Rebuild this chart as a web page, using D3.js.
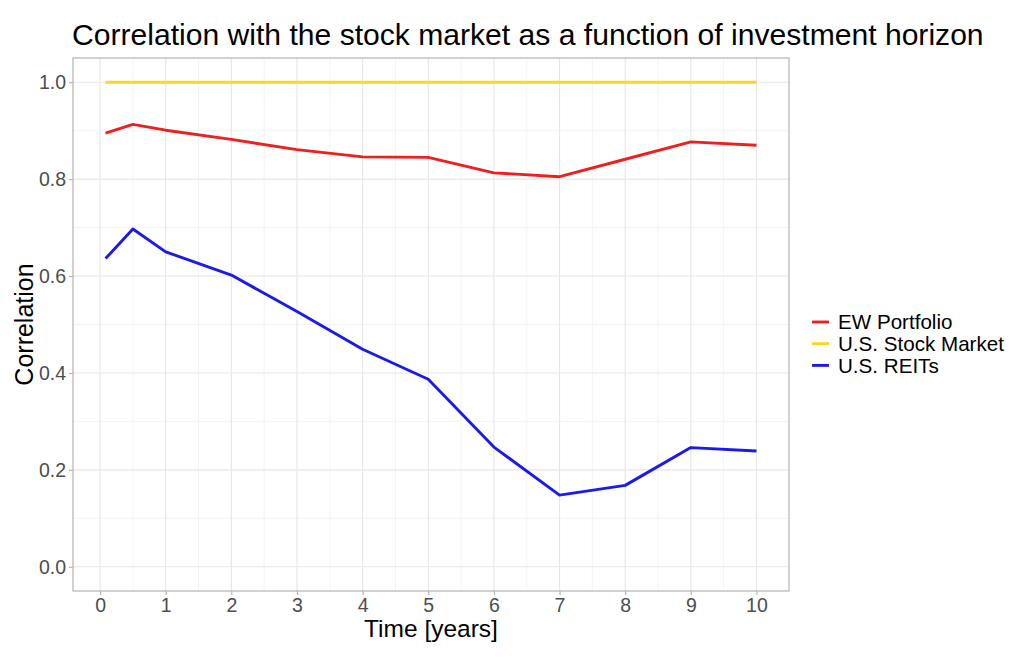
<!DOCTYPE html>
<html><head><meta charset="utf-8">
<script src="https://cdn.jsdelivr.net/npm/d3@7"></script>
<style>body{margin:0;background:#fff}svg{display:block}text{font-family:"Liberation Sans",Arial,sans-serif}</style>
</head><body><svg id="c" width="1024" height="664"></svg>
<script>
const times = [1/12, 0.5, 1, 2, 3, 4, 5, 6, 7, 8, 9, 10];
const ewPortfolio = [0.895, 0.913, 0.901, 0.882, 0.861, 0.846, 0.845, 0.813, 0.805, 0.841, 0.877, 0.870];
const stockMarket = [1, 1, 1, 1, 1, 1, 1, 1, 1, 1, 1, 1];
const reits = [0.636, 0.697, 0.650, 0.602, 0.527, 0.449, 0.387, 0.247, 0.148, 0.168, 0.246, 0.239];
const seriesNames = ["EW Portfolio", "U.S. Stock Market", "U.S. REITs"];
const seriesColors = ["#f01f1f", "#fad52a", "#1a1aee"];
const xTicks = [0,1,2,3,4,5,6,7,8,9,10];
const yTicks = [0.0,0.2,0.4,0.6,0.8,1.0];

const svg = d3.select("#c");
const L = 73, R = 789, T = 58, B = 591;
const xr = [d3.min(times), d3.max(times)], xe = (xr[1]-xr[0])*0.05;
const x = d3.scaleLinear().domain([xr[0]-xe, xr[1]+xe]).range([L, R]);
const y = d3.scaleLinear().domain([-0.05, 1.05]).range([B, T]);

// minor grid
const xMinor = d3.range(-0.5, 10.6, 1);
svg.append("g").selectAll("line").data(xMinor.filter(v=>x(v)>L&&x(v)<R)).join("line")
  .attr("x1",d=>x(d)).attr("x2",d=>x(d)).attr("y1",T).attr("y2",B)
  .attr("stroke","#ececec").attr("stroke-width",0.6);
svg.append("g").selectAll("line").data([0.1,0.3,0.5,0.7,0.9]).join("line")
  .attr("x1",L).attr("x2",R).attr("y1",d=>y(d)).attr("y2",d=>y(d))
  .attr("stroke","#ececec").attr("stroke-width",0.6);
// major grid
svg.append("g").selectAll("line").data(xTicks).join("line")
  .attr("x1",d=>x(d)).attr("x2",d=>x(d)).attr("y1",T).attr("y2",B)
  .attr("stroke","#e6e6e6").attr("stroke-width",1.1);
svg.append("g").selectAll("line").data(yTicks).join("line")
  .attr("x1",L).attr("x2",R).attr("y1",d=>y(d)).attr("y2",d=>y(d))
  .attr("stroke","#e6e6e6").attr("stroke-width",1.1);

// lines
const allSeries = [ewPortfolio, stockMarket, reits];
const line = d3.line().x((d,i)=>x(times[i])).y(d=>y(d));
allSeries.forEach((s,k)=>{
  svg.append("path").datum(s).attr("d",line).attr("fill","none")
    .attr("stroke",seriesColors[k]).attr("stroke-width",2.9).attr("stroke-linejoin","round");
});

// border
svg.append("rect").attr("x",L).attr("y",T).attr("width",R-L).attr("height",B-T)
  .attr("fill","none").attr("stroke","#b3b3b3").attr("stroke-width",1.2);

// axes
const xAxis = d3.axisBottom(x).tickValues(xTicks).tickSize(4).tickPadding(3).tickFormat(d3.format("d"));
const gx = svg.append("g").attr("transform",`translate(0,${B})`).call(xAxis);
gx.select(".domain").remove();
gx.selectAll("line").attr("stroke","#b3b3b3").attr("stroke-width",1.2);
gx.selectAll("text").attr("fill","#4d4d4d").style("font-size","19.5px").attr("y",null).attr("dy",null)
  .attr("transform","translate(0,21)");
const yAxis = d3.axisLeft(y).tickValues(yTicks).tickSize(4).tickPadding(3).tickFormat(d3.format(".1f"));
const gy = svg.append("g").attr("transform",`translate(${L},0)`).call(yAxis);
gy.select(".domain").remove();
gy.selectAll("line").attr("stroke","#b3b3b3").attr("stroke-width",1.2);
gy.selectAll("text").attr("fill","#4d4d4d").style("font-size","19.5px").attr("x",-7);

// titles
svg.append("text").attr("x",L-1).attr("y",45).attr("fill","#000")
  .style("font-size","30.1px").text("Correlation with the stock market as a function of investment horizon");
svg.append("text").attr("x",(L+R)/2).attr("y",637).attr("text-anchor","middle")
  .style("font-size","24.5px").text("Time [years]");
svg.append("text").attr("transform",`translate(33,${(T+B)/2}) rotate(-90)`).attr("text-anchor","middle")
  .style("font-size","25px").text("Correlation");

// legend
const lg = svg.append("g");
seriesNames.forEach((n,k)=>{
  const yy = 322 + k*21.7;
  lg.append("line").attr("x1",812).attr("x2",829).attr("y1",yy).attr("y2",yy)
    .attr("stroke",seriesColors[k]).attr("stroke-width",2.9);
  lg.append("text").attr("x",838).attr("y",yy).attr("dy","0.35em").style("font-size","20.6px").text(n);
});
</script></body></html>
